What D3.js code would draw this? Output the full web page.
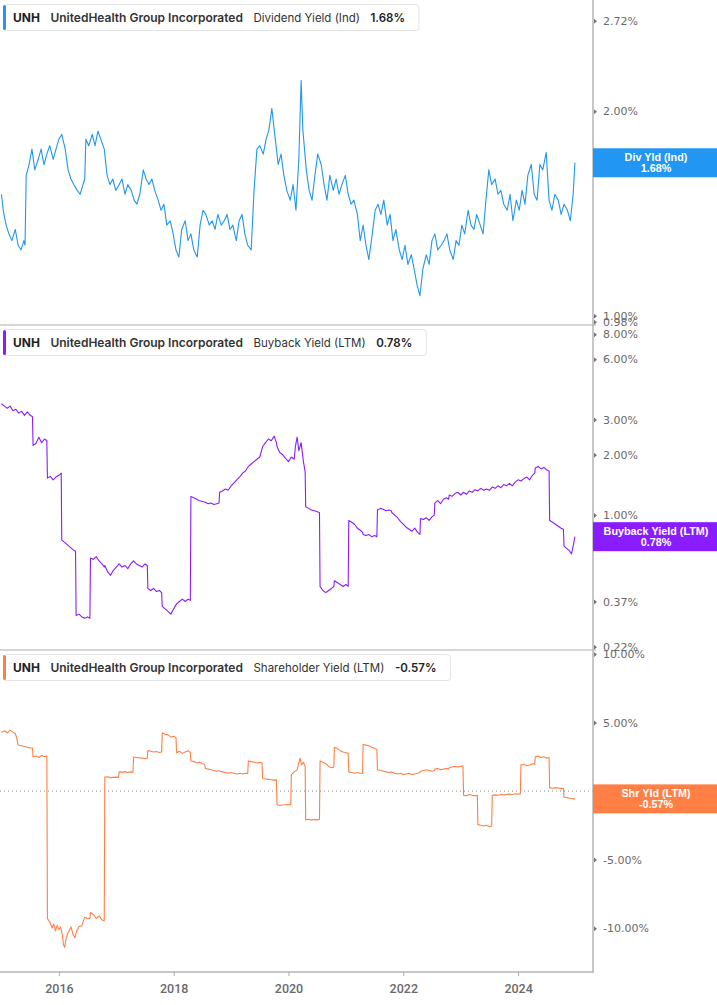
<!DOCTYPE html>
<html><head><meta charset="utf-8">
<script src="https://cdn.jsdelivr.net/npm/d3@7"></script>
<style>body{margin:0;background:#fff;}svg{display:block;}</style>
</head><body>
<svg id="c" width="717" height="1005"></svg>
<script>
// ---------- data ----------
const yearTicks = [2016, 2018, 2020, 2022, 2024];
const divTicks = [0.98, 1.00, 2.00, 2.72];
const buyTicks = [0.22, 0.37, 0.69, 1, 2, 3, 6, 8];
const shrTicks = [-10, -5, 0, 5, 10];
const legendParts = ["UNH", "UnitedHealth Group Incorporated"];
const seriesNames = ["Dividend Yield (Ind)", "Buyback Yield (LTM)", "Shareholder Yield (LTM)"];
const badgeNames = ["Div Yld (Ind)", "Buyback Yield (LTM)", "Shr Yld (LTM)"];
const lastValues = [1.68, 0.78, -0.57];

const divYield = [[2015.00,1.51],[2015.03,1.43],[2015.08,1.36],[2015.13,1.32],[2015.18,1.29],[2015.24,1.34],[2015.29,1.27],[2015.34,1.25],[2015.39,1.29],[2015.41,1.27],[2015.43,1.61],[2015.48,1.67],[2015.53,1.76],[2015.58,1.64],[2015.64,1.70],[2015.69,1.76],[2015.74,1.67],[2015.79,1.73],[2015.84,1.78],[2015.90,1.70],[2015.95,1.76],[2016.00,1.82],[2016.05,1.85],[2016.11,1.76],[2016.16,1.64],[2016.21,1.59],[2016.26,1.56],[2016.32,1.53],[2016.37,1.51],[2016.42,1.56],[2016.45,1.59],[2016.47,1.82],[2016.52,1.78],[2016.58,1.85],[2016.63,1.78],[2016.68,1.87],[2016.73,1.82],[2016.79,1.76],[2016.84,1.61],[2016.89,1.56],[2016.94,1.59],[2016.99,1.53],[2017.05,1.56],[2017.10,1.59],[2017.15,1.51],[2017.20,1.56],[2017.26,1.53],[2017.31,1.48],[2017.36,1.46],[2017.41,1.51],[2017.47,1.64],[2017.52,1.59],[2017.57,1.56],[2017.62,1.59],[2017.67,1.53],[2017.73,1.48],[2017.78,1.43],[2017.83,1.46],[2017.88,1.36],[2017.94,1.38],[2017.99,1.32],[2018.04,1.25],[2018.09,1.22],[2018.14,1.34],[2018.20,1.38],[2018.25,1.29],[2018.30,1.32],[2018.35,1.25],[2018.41,1.22],[2018.46,1.36],[2018.51,1.43],[2018.56,1.41],[2018.62,1.36],[2018.67,1.38],[2018.72,1.34],[2018.77,1.41],[2018.83,1.36],[2018.88,1.38],[2018.93,1.41],[2018.98,1.34],[2019.03,1.36],[2019.09,1.29],[2019.14,1.38],[2019.19,1.41],[2019.24,1.32],[2019.29,1.27],[2019.35,1.25],[2019.40,1.53],[2019.45,1.76],[2019.50,1.78],[2019.56,1.73],[2019.61,1.82],[2019.66,1.88],[2019.71,2.02],[2019.77,1.82],[2019.82,1.67],[2019.87,1.73],[2019.92,1.61],[2019.97,1.53],[2020.03,1.48],[2020.08,1.56],[2020.13,1.43],[2020.18,1.70],[2020.22,2.22],[2020.25,1.88],[2020.31,1.64],[2020.36,1.53],[2020.41,1.48],[2020.46,1.61],[2020.51,1.73],[2020.57,1.67],[2020.62,1.56],[2020.67,1.48],[2020.72,1.61],[2020.78,1.53],[2020.83,1.59],[2020.88,1.51],[2020.93,1.56],[2020.99,1.61],[2021.04,1.51],[2021.09,1.46],[2021.14,1.48],[2021.20,1.41],[2021.25,1.29],[2021.30,1.36],[2021.35,1.27],[2021.40,1.21],[2021.46,1.32],[2021.51,1.43],[2021.56,1.46],[2021.61,1.41],[2021.66,1.48],[2021.72,1.36],[2021.77,1.41],[2021.82,1.29],[2021.87,1.34],[2021.93,1.25],[2021.98,1.21],[2022.03,1.27],[2022.08,1.19],[2022.14,1.23],[2022.19,1.17],[2022.24,1.11],[2022.29,1.07],[2022.34,1.17],[2022.40,1.23],[2022.45,1.19],[2022.50,1.29],[2022.55,1.32],[2022.60,1.25],[2022.66,1.27],[2022.71,1.29],[2022.76,1.32],[2022.81,1.25],[2022.87,1.21],[2022.92,1.29],[2022.97,1.27],[2023.02,1.36],[2023.07,1.32],[2023.13,1.43],[2023.18,1.36],[2023.23,1.34],[2023.28,1.41],[2023.34,1.36],[2023.39,1.32],[2023.44,1.48],[2023.49,1.64],[2023.54,1.56],[2023.60,1.59],[2023.65,1.51],[2023.70,1.53],[2023.75,1.46],[2023.81,1.43],[2023.86,1.51],[2023.91,1.38],[2023.97,1.48],[2024.02,1.43],[2024.07,1.53],[2024.12,1.46],[2024.17,1.61],[2024.23,1.67],[2024.28,1.51],[2024.33,1.48],[2024.38,1.67],[2024.43,1.64],[2024.49,1.74],[2024.54,1.48],[2024.59,1.43],[2024.64,1.51],[2024.70,1.48],[2024.75,1.41],[2024.80,1.46],[2024.86,1.43],[2024.91,1.38],[2024.96,1.51],[2024.99,1.68]];

const buybackYield = [[2015.00,3.60],[2015.05,3.50],[2015.10,3.42],[2015.15,3.50],[2015.20,3.32],[2015.25,3.38],[2015.30,3.23],[2015.35,3.30],[2015.40,3.15],[2015.45,3.28],[2015.50,3.15],[2015.54,3.10],[2015.55,2.23],[2015.60,2.28],[2015.65,2.45],[2015.70,2.30],[2015.75,2.40],[2015.79,2.35],[2015.80,1.53],[2015.85,1.56],[2015.90,1.50],[2015.95,1.55],[2016.00,1.58],[2016.04,1.62],[2016.05,0.75],[2016.10,0.73],[2016.15,0.71],[2016.20,0.69],[2016.25,0.67],[2016.29,0.66],[2016.30,0.315],[2016.35,0.32],[2016.40,0.31],[2016.45,0.305],[2016.50,0.31],[2016.54,0.305],[2016.55,0.61],[2016.60,0.60],[2016.65,0.62],[2016.70,0.59],[2016.75,0.57],[2016.79,0.55],[2016.80,0.56],[2016.85,0.52],[2016.90,0.50],[2016.95,0.53],[2017.00,0.55],[2017.05,0.57],[2017.10,0.55],[2017.15,0.56],[2017.20,0.54],[2017.25,0.57],[2017.30,0.59],[2017.35,0.57],[2017.40,0.56],[2017.45,0.55],[2017.50,0.57],[2017.54,0.56],[2017.55,0.43],[2017.60,0.42],[2017.65,0.43],[2017.70,0.415],[2017.75,0.42],[2017.79,0.41],[2017.80,0.35],[2017.85,0.34],[2017.90,0.33],[2017.95,0.32],[2018.00,0.34],[2018.05,0.36],[2018.10,0.37],[2018.15,0.38],[2018.20,0.37],[2018.25,0.38],[2018.29,0.375],[2018.30,1.24],[2018.35,1.22],[2018.40,1.20],[2018.45,1.18],[2018.50,1.17],[2018.55,1.16],[2018.60,1.14],[2018.65,1.15],[2018.70,1.13],[2018.75,1.14],[2018.79,1.15],[2018.80,1.30],[2018.85,1.32],[2018.90,1.35],[2018.95,1.33],[2019.00,1.40],[2019.05,1.45],[2019.10,1.50],[2019.15,1.55],[2019.20,1.62],[2019.25,1.66],[2019.30,1.75],[2019.35,1.80],[2019.40,1.85],[2019.45,1.90],[2019.50,1.95],[2019.55,2.20],[2019.60,2.30],[2019.65,2.40],[2019.70,2.35],[2019.75,2.48],[2019.79,2.30],[2019.80,2.20],[2019.85,2.05],[2019.90,2.00],[2019.95,1.92],[2020.00,1.85],[2020.05,1.95],[2020.10,1.90],[2020.12,2.20],[2020.15,2.45],[2020.18,2.10],[2020.22,2.30],[2020.26,1.85],[2020.29,1.65],[2020.30,1.10],[2020.35,1.08],[2020.40,1.06],[2020.45,1.05],[2020.50,1.04],[2020.54,1.03],[2020.55,0.44],[2020.60,0.42],[2020.65,0.41],[2020.70,0.42],[2020.75,0.43],[2020.79,0.44],[2020.80,0.47],[2020.85,0.46],[2020.90,0.45],[2020.95,0.44],[2021.00,0.45],[2021.04,0.44],[2021.05,0.94],[2021.10,0.92],[2021.15,0.90],[2021.20,0.86],[2021.25,0.84],[2021.29,0.82],[2021.30,0.80],[2021.35,0.79],[2021.40,0.80],[2021.45,0.78],[2021.50,0.79],[2021.54,0.78],[2021.55,1.06],[2021.60,1.08],[2021.65,1.07],[2021.70,1.05],[2021.75,1.06],[2021.79,1.05],[2021.80,1.03],[2021.85,1.00],[2021.90,0.97],[2021.95,0.93],[2022.00,0.90],[2022.05,0.87],[2022.10,0.85],[2022.15,0.83],[2022.20,0.86],[2022.25,0.82],[2022.29,0.80],[2022.30,0.96],[2022.35,0.95],[2022.40,0.97],[2022.45,0.94],[2022.50,0.98],[2022.54,1.00],[2022.55,1.15],[2022.60,1.18],[2022.65,1.14],[2022.70,1.20],[2022.75,1.22],[2022.79,1.20],[2022.80,1.26],[2022.85,1.24],[2022.90,1.28],[2022.95,1.30],[2023.00,1.26],[2023.05,1.30],[2023.10,1.27],[2023.15,1.32],[2023.20,1.30],[2023.25,1.34],[2023.30,1.32],[2023.35,1.36],[2023.40,1.33],[2023.45,1.35],[2023.50,1.33],[2023.55,1.38],[2023.60,1.36],[2023.65,1.40],[2023.70,1.37],[2023.75,1.42],[2023.80,1.40],[2023.85,1.44],[2023.90,1.40],[2023.95,1.46],[2024.00,1.50],[2024.05,1.48],[2024.10,1.52],[2024.15,1.55],[2024.20,1.50],[2024.25,1.58],[2024.29,1.62],[2024.30,1.72],[2024.35,1.75],[2024.40,1.70],[2024.45,1.73],[2024.50,1.68],[2024.54,1.66],[2024.55,0.94],[2024.60,0.92],[2024.65,0.90],[2024.70,0.88],[2024.75,0.86],[2024.79,0.85],[2024.80,0.70],[2024.85,0.68],[2024.90,0.66],[2024.93,0.64],[2024.96,0.70],[2024.99,0.78]];

const shareholderYield = [[2015.00,4.30],[2015.05,4.40],[2015.10,4.25],[2015.15,4.45],[2015.20,4.30],[2015.24,4.20],[2015.26,3.95],[2015.29,3.36],[2015.35,3.30],[2015.40,3.25],[2015.45,3.20],[2015.50,3.15],[2015.54,3.14],[2015.55,2.50],[2015.60,2.55],[2015.65,2.45],[2015.70,2.60],[2015.75,2.50],[2015.79,2.55],[2015.80,-9.30],[2015.85,-9.60],[2015.88,-10.0],[2015.91,-9.7],[2015.94,-10.2],[2015.97,-9.8],[2016.00,-10.1],[2016.03,-9.9],[2016.06,-10.5],[2016.08,-11.2],[2016.10,-11.4],[2016.12,-10.9],[2016.15,-10.4],[2016.18,-10.2],[2016.21,-9.9],[2016.25,-10.5],[2016.28,-10.7],[2016.31,-10.2],[2016.35,-9.9],[2016.40,-9.8],[2016.45,-9.2],[2016.50,-9.3],[2016.54,-9.3],[2016.55,-8.85],[2016.60,-9.0],[2016.65,-9.3],[2016.70,-9.1],[2016.75,-9.4],[2016.79,-9.45],[2016.80,1.02],[2016.85,1.05],[2016.90,0.98],[2016.95,1.00],[2017.00,1.02],[2017.04,1.00],[2017.05,1.40],[2017.10,1.38],[2017.15,1.42],[2017.20,1.36],[2017.25,1.40],[2017.29,1.38],[2017.30,2.48],[2017.35,2.45],[2017.40,2.42],[2017.45,2.40],[2017.50,2.38],[2017.54,2.40],[2017.55,2.95],[2017.60,2.90],[2017.65,2.85],[2017.70,2.88],[2017.75,2.82],[2017.79,2.85],[2017.80,4.25],[2017.85,4.15],[2017.90,4.10],[2017.95,3.95],[2018.00,4.00],[2018.04,3.90],[2018.05,2.80],[2018.10,2.90],[2018.15,2.75],[2018.20,2.85],[2018.25,2.95],[2018.29,2.80],[2018.30,2.19],[2018.35,2.15],[2018.40,2.05],[2018.45,2.10],[2018.50,2.00],[2018.54,1.95],[2018.55,1.65],[2018.60,1.60],[2018.65,1.55],[2018.70,1.50],[2018.75,1.45],[2018.79,1.50],[2018.80,1.45],[2018.85,1.40],[2018.90,1.35],[2018.95,1.30],[2019.00,1.35],[2019.05,1.30],[2019.10,1.25],[2019.15,1.30],[2019.20,1.25],[2019.25,1.30],[2019.29,1.28],[2019.30,2.20],[2019.35,2.15],[2019.40,2.10],[2019.45,2.05],[2019.50,2.10],[2019.54,2.05],[2019.55,0.90],[2019.60,0.88],[2019.65,0.85],[2019.70,0.82],[2019.75,0.80],[2019.79,0.82],[2019.80,-1.00],[2019.85,-1.05],[2019.90,-1.02],[2019.95,-1.00],[2020.00,-0.98],[2020.04,-1.00],[2020.05,1.20],[2020.10,1.40],[2020.15,1.55],[2020.20,2.40],[2020.23,1.90],[2020.26,2.10],[2020.29,1.80],[2020.30,-2.10],[2020.35,-2.05],[2020.40,-2.12],[2020.45,-2.08],[2020.50,-2.10],[2020.54,-2.05],[2020.55,2.20],[2020.60,2.10],[2020.65,2.00],[2020.70,1.80],[2020.75,1.70],[2020.79,1.75],[2020.80,3.20],[2020.85,3.10],[2020.90,2.95],[2020.95,2.85],[2021.00,2.80],[2021.04,2.75],[2021.05,1.40],[2021.10,1.35],[2021.15,1.30],[2021.20,1.35],[2021.25,1.30],[2021.29,1.28],[2021.30,3.40],[2021.35,3.35],[2021.40,3.30],[2021.45,3.20],[2021.50,3.10],[2021.54,3.05],[2021.55,1.55],[2021.60,1.50],[2021.65,1.45],[2021.70,1.40],[2021.75,1.35],[2021.79,1.40],[2021.80,1.38],[2021.85,1.30],[2021.90,1.25],[2021.95,1.30],[2022.00,1.20],[2022.05,1.25],[2022.10,1.30],[2022.15,1.20],[2022.20,1.25],[2022.25,1.30],[2022.29,1.35],[2022.30,1.45],[2022.35,1.50],[2022.40,1.55],[2022.45,1.50],[2022.50,1.45],[2022.54,1.50],[2022.55,1.60],[2022.60,1.65],[2022.65,1.55],[2022.70,1.60],[2022.75,1.65],[2022.79,1.60],[2022.80,1.70],[2022.85,1.75],[2022.90,1.80],[2022.95,1.75],[2023.00,1.80],[2023.04,1.85],[2023.05,-0.30],[2023.10,-0.35],[2023.15,-0.25],[2023.20,-0.30],[2023.25,-0.35],[2023.29,-0.30],[2023.30,-2.45],[2023.35,-2.50],[2023.40,-2.55],[2023.45,-2.50],[2023.50,-2.60],[2023.54,-2.55],[2023.55,-0.30],[2023.60,-0.28],[2023.65,-0.30],[2023.70,-0.25],[2023.75,-0.28],[2023.80,-0.25],[2023.85,-0.22],[2023.90,-0.25],[2023.95,-0.20],[2024.00,-0.22],[2024.04,-0.20],[2024.05,1.90],[2024.10,1.95],[2024.15,1.85],[2024.20,1.90],[2024.25,2.00],[2024.29,1.95],[2024.30,2.50],[2024.35,2.55],[2024.40,2.45],[2024.45,2.50],[2024.50,2.40],[2024.54,2.45],[2024.55,0.25],[2024.60,0.20],[2024.65,0.25],[2024.70,0.22],[2024.75,0.18],[2024.79,0.20],[2024.80,-0.45],[2024.85,-0.48],[2024.90,-0.52],[2024.95,-0.55],[2024.99,-0.57]];

// ---------- drawing ----------
const svg = d3.select('#c');
const AX = 593;
const x = d3.scaleLinear().domain([2015, 2025.3]).range([1.5, 592.7]);
const colors = ['#2196F3', '#8A1DFF', '#FF7F45'];
const fmt = v => v.toFixed(2) + '%';

const panels = [
  {data: divYield, y: d3.scaleLog().domain([0.98, 2.72]).range([321.7, 20.7]), ticks: divTicks, legTop: 4},
  {data: buybackYield, y: d3.scaleLog().domain([0.22, 8]).range([646.7, 334.3]), ticks: buyTicks, legTop: 329},
  {data: shareholderYield, y: d3.scaleLinear().domain([-13.2, 10]).range([972, 654]), ticks: shrTicks, legTop: 654}
];

// separators
[325, 650].forEach(yy => svg.append('line').attr('x1', 0).attr('x2', 596).attr('y1', yy).attr('y2', yy)
  .attr('stroke', '#c8c8c8').attr('stroke-width', 1.5));

// zero line in panel 3
svg.append('line').attr('x1', 0).attr('x2', AX).attr('y1', panels[2].y(0)).attr('y2', panels[2].y(0))
  .attr('stroke', '#888').attr('stroke-width', 1).attr('stroke-dasharray', '1,3');

// lines
panels.forEach((p, i) => {
  const line = d3.line().x(d => x(d[0])).y(d => p.y(d[1])).curve(d3.curveLinear);
  svg.append('path').datum(p.data).attr('d', line).attr('fill', 'none')
    .attr('stroke', colors[i]).attr('stroke-width', 1.1).attr('stroke-linejoin', 'round');
});

// right axis line
svg.append('line').attr('x1', AX).attr('x2', AX).attr('y1', 0).attr('y2', 972.5)
  .attr('stroke', '#b4b4b4').attr('stroke-width', 1.5);

// right tick labels via axes
panels.forEach((p, i) => {
  const ax = d3.axisRight(p.y).tickValues(p.ticks).tickFormat(fmt).tickSize(0).tickPadding(10);
  const g = svg.append('g').attr('transform', `translate(${AX},0)`).call(ax);
  g.select('.domain').remove();
  g.selectAll('.tick text').attr('fill', '#6a6a6a').style('font-family', '"DejaVu Sans", Verdana, sans-serif')
    .style('font-size', '11px');
  g.selectAll('.tick').append('path').attr('d', 'M1,-2.5L4,0L1,2.5Z').attr('fill', '#777');
});

// bottom axis
svg.append('line').attr('x1', 0).attr('x2', AX + 0.75).attr('y1', 972).attr('y2', 972)
  .attr('stroke', '#b4b4b4').attr('stroke-width', 1.5);
const bx = d3.axisBottom(x).tickValues(yearTicks).tickFormat(d3.format('d')).tickSize(4).tickPadding(8);
const bg = svg.append('g').attr('transform', 'translate(0,972)').call(bx);
bg.select('.domain').remove();
bg.selectAll('.tick line').attr('stroke', '#aaa');
bg.selectAll('.tick text').attr('fill', '#6a6a6a').style('font-family', 'Roboto, sans-serif')
  .style('font-size', '12.5px').style('font-weight', '500');

// legends
panels.forEach((p, i) => {
  const g = svg.append('g');
  const rect = g.append('rect').attr('x', 3.5).attr('y', p.legTop + 0.5).attr('height', 26).attr('rx', 3)
    .attr('fill', '#fff').attr('stroke', '#e3e3e3');
  g.append('rect').attr('x', 3).attr('y', p.legTop + 1).attr('width', 3).attr('height', 25).attr('rx', 1.5).attr('fill', colors[i]);
  const parts = [
    {t: legendParts[0], w: 700, c: '#222', s: 12},
    {t: legendParts[1], w: 600, c: '#333', s: 12},
    {t: seriesNames[i], w: 400, c: '#333', s: 11.5},
    {t: fmt(lastValues[i]), w: 600, c: '#222', s: 11.5}
  ];
  let cx = 13;
  parts.forEach(pt => {
    const t = g.append('text').attr('x', cx).attr('y', p.legTop + 13.5).attr('dominant-baseline', 'central')
      .style('font-family', 'Inter, "Noto Sans", sans-serif').style('font-size', pt.s + 'px')
      .style('font-weight', pt.w).attr('fill', pt.c).text(pt.t);
    cx += t.node().getComputedTextLength() + 10.5;
  });
  rect.attr('width', cx - 10.5 + 14 - 3.5);
});

// badges
panels.forEach((p, i) => {
  const cy = p.y(lastValues[i]);
  const g = svg.append('g');
  g.append('rect').attr('x', AX).attr('y', cy - 14.5).attr('width', 717 - AX).attr('height', 29).attr('fill', colors[i]);
  const tx = (AX + 717) / 2 + 1;
  [badgeNames[i], fmt(lastValues[i])].forEach((s, k) => {
    g.append('text').attr('x', tx).attr('y', cy + (k ? 5.5 : -6)).attr('text-anchor', 'middle').attr('dominant-baseline', 'central')
      .style('font-family', '"Liberation Sans", Arial, sans-serif').style('font-size', '10.8px').style('font-weight', 700)
      .attr('fill', '#fff').text(s);
  });
});
</script>
</body></html>
